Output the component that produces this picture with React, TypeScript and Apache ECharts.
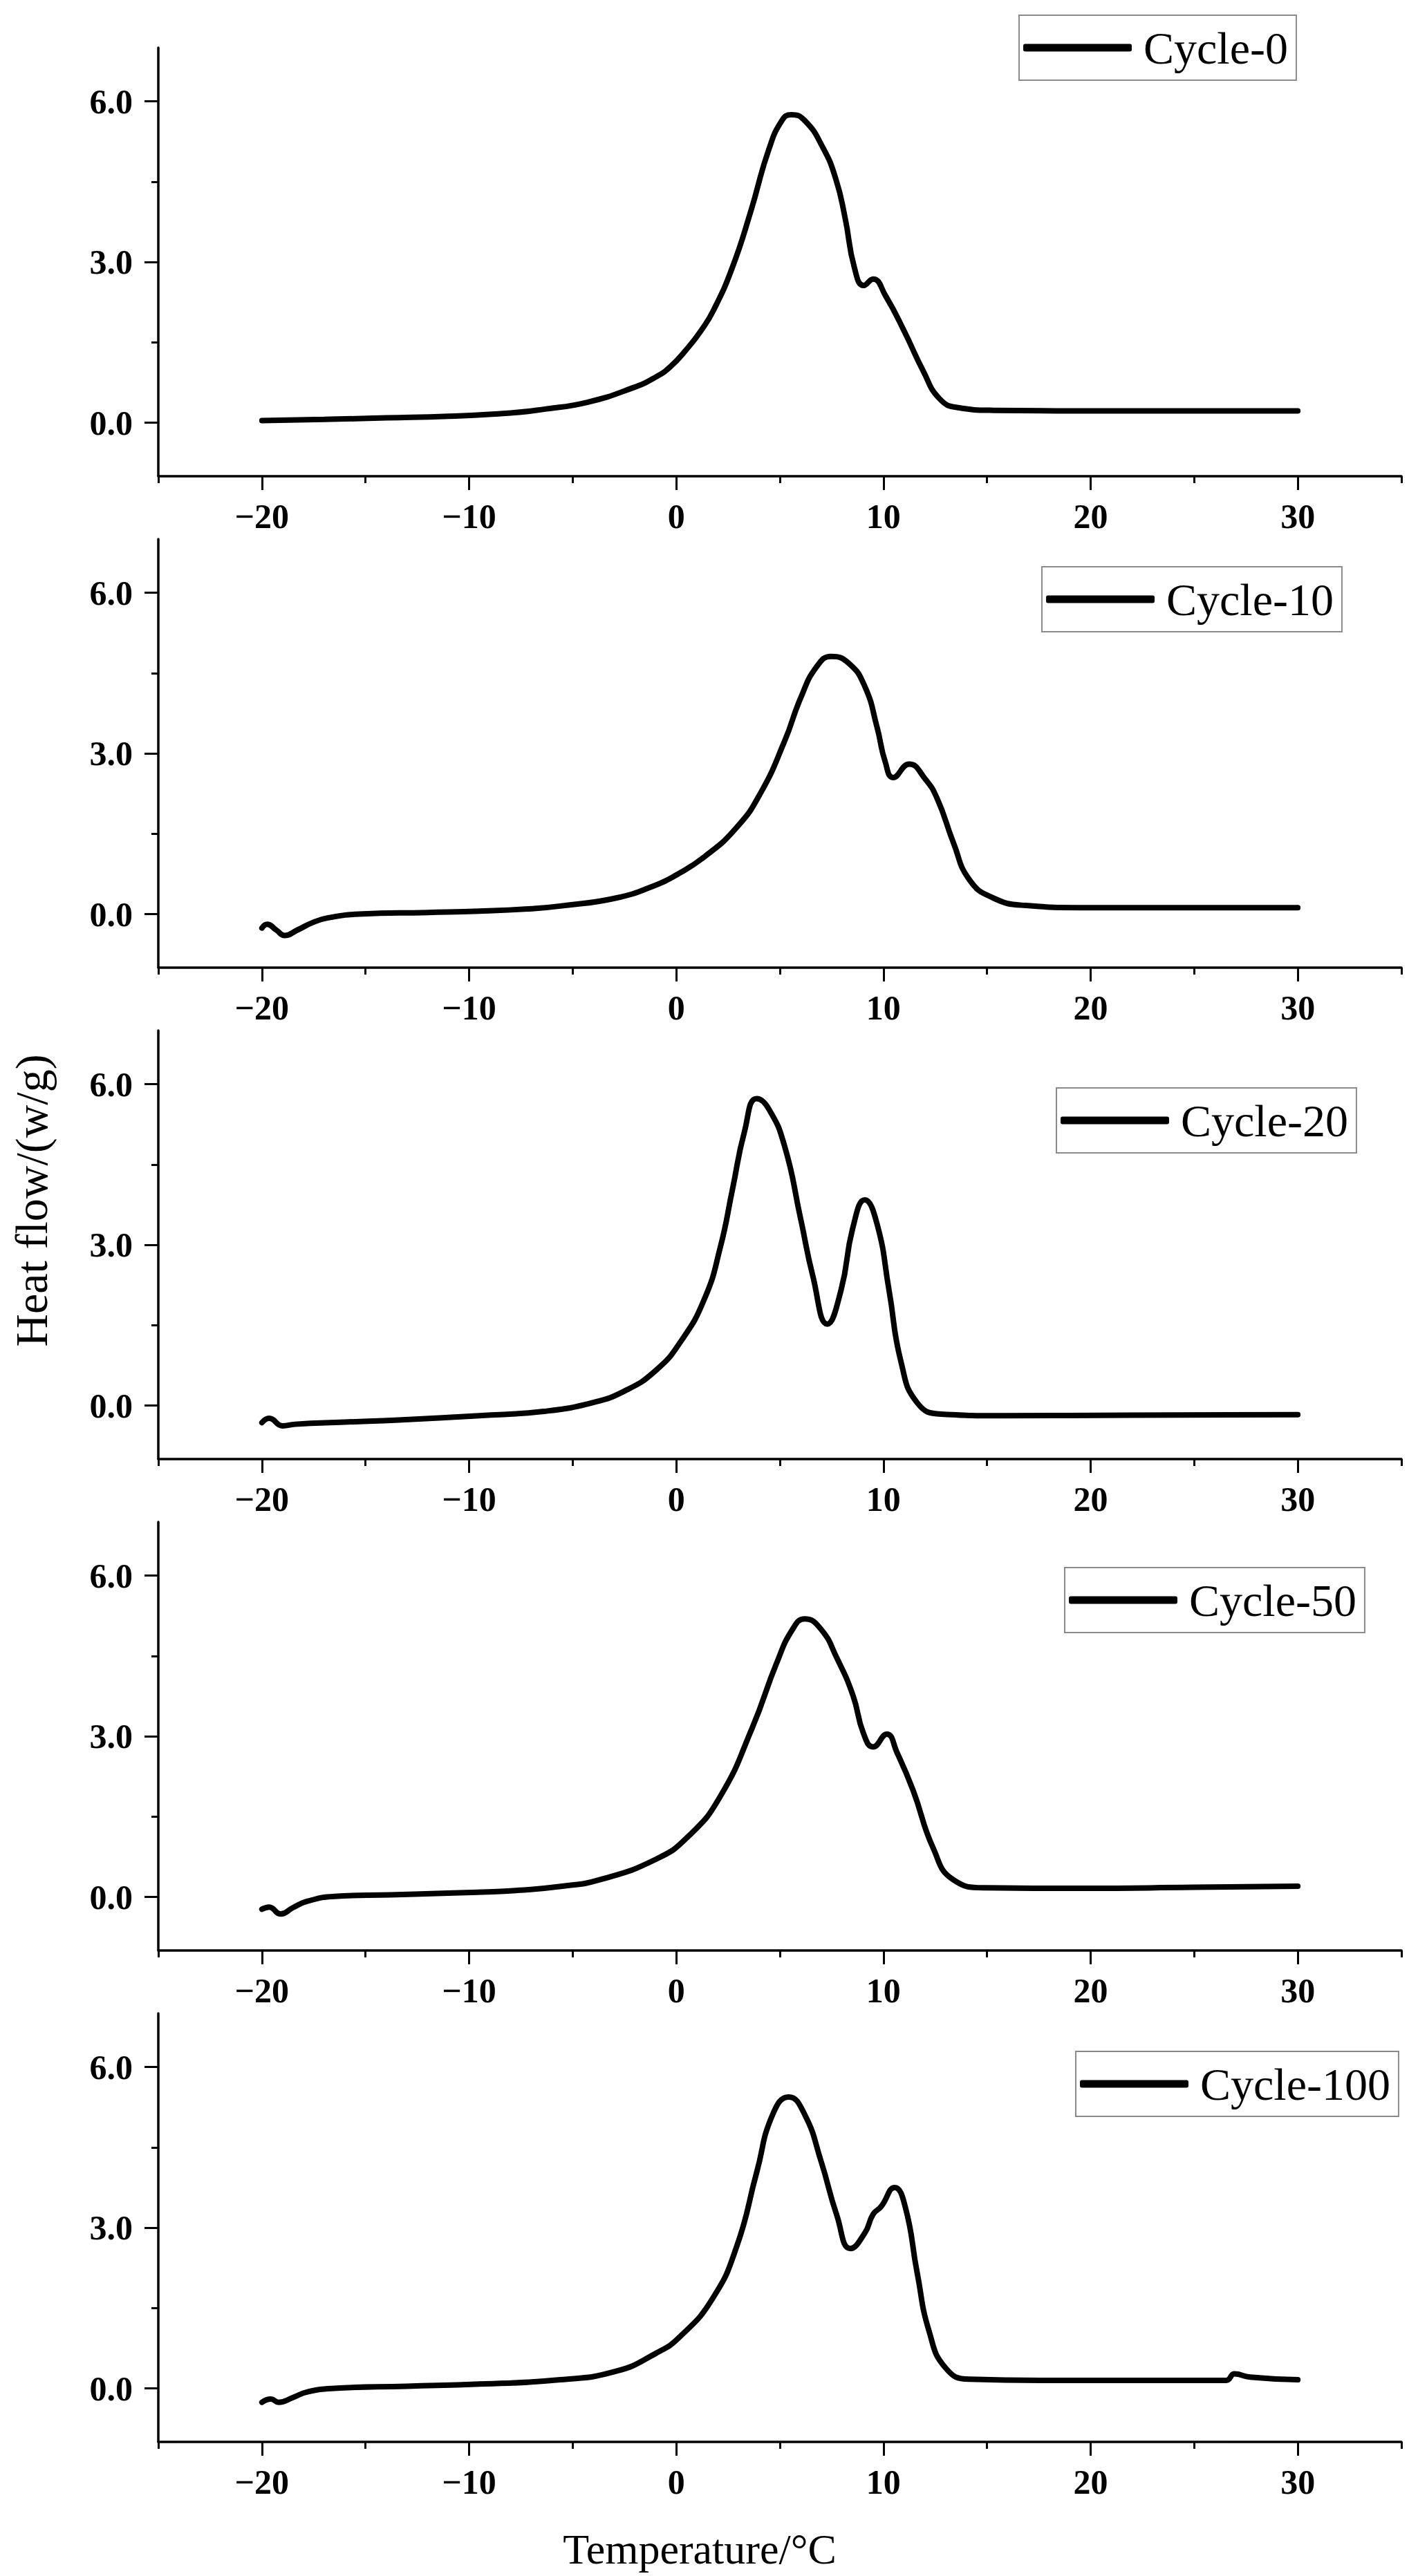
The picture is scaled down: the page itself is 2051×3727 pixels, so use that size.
import { useEffect, useRef } from 'react';
import * as echarts from 'echarts';

// DSC heat flow curves, [temperature °C, heat flow w/g]
const cycle0: [number, number][] = [
  [-20, 0.04], [-17, 0.06], [-14, 0.09], [-11, 0.12], [-8, 0.18], [-6.4, 0.25], [-4.3, 0.38],
  [-2.1, 0.65], [-1, 0.85], [-0.3, 1.04], [0.5, 1.37], [1.2, 1.72], [1.8, 2.1], [2.7, 2.89],
  [3.6, 3.95], [4.45, 5.08], [5.1, 5.64], [5.55, 5.75], [6.2, 5.64], [7.07, 5.14], [7.7, 4.55],
  [8.15, 3.82], [8.6, 2.89], [9.05, 2.56], [9.5, 2.68], [10.1, 2.37], [11.0, 1.71], [11.9, 0.98],
  [12.7, 0.45], [13.6, 0.28], [15.3, 0.23], [20, 0.22], [25, 0.22], [30, 0.22],
];

const cycle10: [number, number][] = [
  [-20, -0.26], [-19.75, -0.19], [-19.3, -0.3], [-18.9, -0.4], [-18.3, -0.3], [-17.5, -0.15],
  [-16.8, -0.07], [-15.3, 0.0], [-12, 0.03], [-9.5, 0.054], [-7, 0.1], [-5.6, 0.15], [-2.9, 0.3],
  [-1.0, 0.54], [0, 0.73], [1.36, 1.07], [2.9, 1.61], [4.07, 2.26], [5.23, 3.23], [6.0, 4.03],
  [6.78, 4.62], [7.48, 4.81], [8.33, 4.68], [9.1, 4.25], [9.69, 3.49], [10.08, 2.85], [10.47, 2.55],
  [11.24, 2.8], [12.0, 2.53], [12.6, 2.15], [13.37, 1.34], [14.15, 0.64], [15.3, 0.3], [16.86, 0.16],
  [19.57, 0.12], [25, 0.12], [30, 0.12],
];

const cycle20: [number, number][] = [
  [-20, -0.32], [-19.65, -0.24], [-19.0, -0.38], [-18.4, -0.35], [-16, -0.31], [-13.4, -0.27],
  [-9.5, -0.19], [-6.4, -0.11], [-4.07, 0.05], [-2.5, 0.27], [-1.0, 0.65], [0.19, 1.18], [1.36, 1.99],
  [2.13, 2.96], [2.71, 4.03], [3.29, 5.11], [3.88, 5.73], [4.46, 5.54], [5.23, 4.84], [6.0, 3.49],
  [6.59, 2.42], [7.29, 1.52], [7.95, 2.15], [8.53, 3.33], [9.1, 3.84], [9.69, 3.39], [10.27, 2.15],
  [10.85, 0.81], [11.63, 0.05], [12.8, -0.16], [15.7, -0.19], [22, -0.18], [30, -0.17],
];

const cycle50: [number, number][] = [
  [-20, -0.23], [-19.65, -0.19], [-19.1, -0.32], [-18.5, -0.2], [-17.8, -0.08], [-16.5, 0.01],
  [-13.8, 0.04], [-11, 0.07], [-7.75, 0.12], [-5.5, 0.2], [-3.7, 0.32], [-1.0, 0.7], [0.58, 1.13],
  [2.13, 1.88], [3.68, 3.17], [4.84, 4.36], [5.62, 5.0], [6.2, 5.19], [6.98, 5.0], [7.75, 4.46],
  [8.53, 3.76], [9.03, 3.06], [9.5, 2.8], [10.16, 3.04], [10.66, 2.69], [11.43, 1.99], [12.4, 0.91],
  [13.37, 0.32], [14.9, 0.17], [19.57, 0.16], [25, 0.18], [30, 0.2],
];

const cycle100: [number, number][] = [
  [-20, -0.26], [-19.57, -0.2], [-19.2, -0.26], [-18.5, -0.17], [-17.8, -0.065], [-16.5, 0.0],
  [-13, 0.04], [-9.5, 0.08], [-5.6, 0.16], [-2.9, 0.32], [-1.0, 0.65], [0.19, 0.97], [1.74, 1.67],
  [2.9, 2.63], [3.88, 4.03], [4.65, 5.11], [5.43, 5.44], [6.2, 5.11], [6.98, 4.25], [7.75, 3.23],
  [8.41, 2.61], [9.1, 2.9], [9.5, 3.25], [9.88, 3.39], [10.54, 3.75], [11.05, 3.39], [11.63, 2.15],
  [12.2, 1.07], [13.0, 0.38], [14.15, 0.17], [17.6, 0.15], [26.55, 0.15], [26.94, 0.27], [27.7, 0.21],
  [30, 0.16],
];

const seriesNames = ['Cycle-0', 'Cycle-10', 'Cycle-20', 'Cycle-50', 'Cycle-100'];
const seriesData = [cycle0, cycle10, cycle20, cycle50, cycle100];

const xFrame = [-25, 35];
const yFrame = [-1, 7];
const xTicks = { min: -20, max: 30, interval: 10 };
const yTicks = { min: 0, max: 6, interval: 3 };

const xTitle = 'Temperature/\u00b0C';
const yTitle = 'Heat flow/(w/g)';

// layout
const W = 2051;
const H = 3727;
const LEFT = 229;
const PLOT_W = 1798;
const TOP0 = 69;
const STEP = 711;
const PLOT_H = 620;
const legendPos = [[1474, 22], [1507, 820], [1528, 1574], [1540, 2268], [1556, 2968]];

const FONT = '"Liberation Serif", "Times New Roman", Times, serif';

function buildOption() {
  const grids: any[] = [];
  const xAxes: any[] = [];
  const yAxes: any[] = [];
  const legends: any[] = [];
  const series: any[] = [];

  const pxX = PLOT_W / (xFrame[1] - xFrame[0]);
  const pxY = PLOT_H / (yFrame[1] - yFrame[0]);
  const tickLine = { color: '#000', width: 3 };

  seriesNames.forEach((name, i) => {
    const top = TOP0 + STEP * i;
    const g = i * 3;

    // frame grid holding the data
    grids.push({ left: LEFT, top, width: PLOT_W, height: PLOT_H, outerBoundsMode: 'none' });
    // grid spanning the labelled x range
    grids.push({
      left: LEFT + (xTicks.min - xFrame[0]) * pxX,
      top,
      width: (xTicks.max - xTicks.min) * pxX,
      height: PLOT_H,
      outerBoundsMode: 'none',
    });
    // grid spanning the labelled y range
    grids.push({
      left: LEFT,
      top: top + (yFrame[1] - yTicks.max) * pxY,
      width: PLOT_W,
      height: (yTicks.max - yTicks.min) * pxY,
      outerBoundsMode: 'none',
    });

    xAxes.push({
      type: 'value', gridIndex: g, min: xFrame[0], max: xFrame[1], interval: 5,
      axisLine: { onZero: false, lineStyle: { color: '#000', width: 3.5 } },
      axisTick: { length: 10, lineStyle: tickLine },
      axisLabel: { show: false },
      splitLine: { show: false },
    });
    yAxes.push({
      type: 'value', gridIndex: g, min: yFrame[0], max: yFrame[1],
      axisLine: { show: true, onZero: false, lineStyle: { color: '#000', width: 3.5 } },
      axisTick: { show: false },
      axisLabel: { show: false },
      splitLine: { show: false },
    });

    xAxes.push({
      type: 'value', gridIndex: g + 1, min: xTicks.min, max: xTicks.max, interval: xTicks.interval,
      axisLine: { show: false, onZero: false },
      axisTick: { length: 20, lineStyle: tickLine },
      axisLabel: {
        margin: 33, color: '#000', fontSize: 50, fontWeight: 'bold', fontFamily: FONT,
        formatter: (v: number) => (v < 0 ? '\u2212' + Math.abs(v) : String(v)),
      },
      splitLine: { show: false },
    });
    yAxes.push({ type: 'value', gridIndex: g + 1, min: yFrame[0], max: yFrame[1], show: false });

    xAxes.push({ type: 'value', gridIndex: g + 2, min: xFrame[0], max: xFrame[1], show: false });
    yAxes.push({
      type: 'value', gridIndex: g + 2, min: yTicks.min, max: yTicks.max, interval: yTicks.interval,
      axisLine: { show: false, onZero: false },
      axisTick: { length: 20, lineStyle: tickLine },
      minorTick: { show: true, splitNumber: 2, length: 10, lineStyle: tickLine },
      axisLabel: {
        margin: 37, color: '#000', fontSize: 50, fontWeight: 'bold', fontFamily: FONT,
        formatter: (v: number) => v.toFixed(1),
      },
      splitLine: { show: false },
      minorSplitLine: { show: false },
    });

    series.push({
      name,
      type: 'line',
      xAxisIndex: g,
      yAxisIndex: g,
      data: seriesData[i],
      smooth: 0.5,
      showSymbol: false,
      color: '#000',
      lineStyle: { color: '#000', width: 8, cap: 'round', join: 'round' },
    });

    legends.push({
      data: [name],
      left: legendPos[i][0],
      top: legendPos[i][1],
      orient: 'horizontal',
      selectedMode: false,
      icon: 'roundRect',
      itemWidth: 157,
      itemHeight: 11,
      padding: [12, 12, 12, 6],
      borderColor: '#8a8a8a',
      borderWidth: 2,
      backgroundColor: '#fff',
      itemStyle: { color: '#000' },
      textStyle: {
        fontSize: 66, fontFamily: FONT, color: '#000', lineHeight: 70, padding: [0, 0, 0, 12],
      },
    });
  });

  return {
    animation: false,
    backgroundColor: '#fff',
    grid: grids,
    xAxis: xAxes,
    yAxis: yAxes,
    legend: legends,
    series,
    graphic: [
      {
        type: 'text', x: 1012, y: 3688,
        style: {
          text: xTitle, fontSize: 62, fontFamily: FONT, fill: '#000',
          align: 'center', verticalAlign: 'middle',
        },
      },
      {
        type: 'text', x: 45, y: 1737, rotation: Math.PI / 2,
        style: {
          text: yTitle, fontSize: 66, fontFamily: FONT, fill: '#000',
          align: 'center', verticalAlign: 'middle',
        },
      },
    ],
  };
}

export default function App() {
  const chartRef = useRef<HTMLDivElement>(null);

  useEffect(() => {
    if (!chartRef.current) return;
    document.body.style.margin = '0';
    const chart = echarts.init(chartRef.current, undefined, { renderer: 'svg' });
    chart.setOption(buildOption());
    return () => chart.dispose();
  }, []);

  return <div ref={chartRef} style={{ width: W, height: H }} />;
}
